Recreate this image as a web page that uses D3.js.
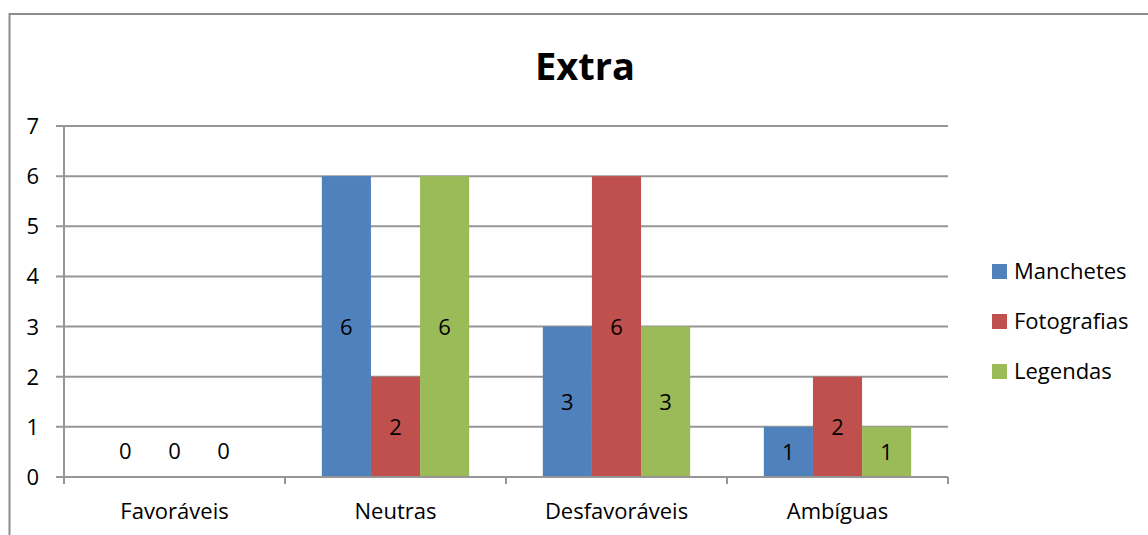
<!DOCTYPE html>
<html>
<head>
<meta charset="utf-8">
<script src="https://cdn.jsdelivr.net/npm/d3@7"></script>
<style>
  body { margin: 0; background: #fff; }
  text { font-family: "Open Sans", "Noto Sans", sans-serif; fill: #000; }
</style>
</head>
<body>
<div id="chart"></div>
<script>
// Chart data
const categories = ["Favoráveis", "Neutras", "Desfavoráveis", "Ambíguas"];
const seriesNames = ["Manchetes", "Fotografias", "Legendas"];
const manchetes = [0, 6, 3, 1];
const fotografias = [0, 2, 6, 2];
const legendas = [0, 6, 3, 1];
const yTicks = [0, 1, 2, 3, 4, 5, 6, 7];
const colors = ["#4F81BD", "#C0504D", "#9BBB59"];

const width = 1148;
const height = 535;
const fs = 22;

const seriesValues = [manchetes, fotografias, legendas];
const rows = [];
categories.forEach((c, i) => {
  seriesNames.forEach((s, j) => rows.push({ cat: c, series: s, value: seriesValues[j][i] }));
});

const svg = d3.select("#chart")
  .append("svg")
  .attr("width", width)
  .attr("height", height);

// outer frame
svg.append("rect")
  .attr("x", 9.5).attr("y", 14)
  .attr("width", 1160).attr("height", 540)
  .attr("fill", "none")
  .attr("stroke", "#8c8c8c")
  .attr("stroke-width", 2);

const x = d3.scaleBand().domain(categories).range([64, 948]);
const x1 = d3.scaleBand().domain(seriesNames).range([0, x.bandwidth()]).paddingOuter(0.75).paddingInner(0);
const y = d3.scaleLinear().domain([0, 7]).range([477, 126]);

// gridlines and y ticks
svg.append("g")
  .selectAll("line")
  .data(yTicks)
  .join("line")
  .attr("x1", 56).attr("x2", 948)
  .attr("y1", d => y(d)).attr("y2", d => y(d))
  .attr("stroke", "#969696")
  .attr("stroke-width", 2);

svg.append("g")
  .selectAll("text")
  .data(yTicks)
  .join("text")
  .attr("x", 39)
  .attr("y", d => y(d) + 8)
  .attr("text-anchor", "end")
  .attr("font-size", fs)
  .text(d => d);

// y axis line
svg.append("line")
  .attr("x1", 64).attr("x2", 64)
  .attr("y1", y(7)).attr("y2", 484)
  .attr("stroke", "#969696").attr("stroke-width", 2);

// x axis ticks
const xTickPos = categories.map(c => x(c)).concat([x.range()[1]]);
svg.append("g")
  .selectAll("line")
  .data(xTickPos)
  .join("line")
  .attr("x1", d => d).attr("x2", d => d)
  .attr("y1", 477).attr("y2", 484)
  .attr("stroke", "#969696").attr("stroke-width", 2);

// bars
svg.append("g")
  .selectAll("rect")
  .data(rows)
  .join("rect")
  .attr("x", d => x(d.cat) + x1(d.series))
  .attr("y", d => y(d.value))
  .attr("width", x1.bandwidth())
  .attr("height", d => y(0) - y(d.value))
  .attr("fill", d => colors[seriesNames.indexOf(d.series)]);

// redraw the baseline over the bars
svg.append("line")
  .attr("x1", 56).attr("x2", 948)
  .attr("y1", y(0)).attr("y2", y(0))
  .attr("stroke", "#969696").attr("stroke-width", 2);

// data labels
svg.append("g")
  .selectAll("text")
  .data(rows)
  .join("text")
  .attr("x", d => x(d.cat) + x1(d.series) + x1.bandwidth() / 2)
  .attr("y", d => d.value === 0 ? y(0) - 18 : (y(d.value) + y(0)) / 2 + 8)
  .attr("text-anchor", "middle")
  .attr("font-size", fs)
  .text(d => d.value);

// category labels
svg.append("g")
  .selectAll("text")
  .data(categories)
  .join("text")
  .attr("x", d => x(d) + x.bandwidth() / 2)
  .attr("y", 519)
  .attr("text-anchor", "middle")
  .attr("font-size", fs)
  .text(d => d);

// title
svg.append("text")
  .attr("x", 585)
  .attr("y", 80)
  .attr("text-anchor", "middle")
  .attr("font-size", 38)
  .attr("font-weight", "bold")
  .text("Extra");

// legend
const legend = svg.append("g")
  .selectAll("g")
  .data(seriesNames)
  .join("g")
  .attr("transform", (d, i) => `translate(992,${264 + i * 50})`);

legend.append("rect")
  .attr("width", 15).attr("height", 15)
  .attr("fill", (d, i) => colors[i]);

legend.append("text")
  .attr("x", 22)
  .attr("y", 15)
  .attr("font-size", fs)
  .text(d => d);
</script>
</body>
</html>
